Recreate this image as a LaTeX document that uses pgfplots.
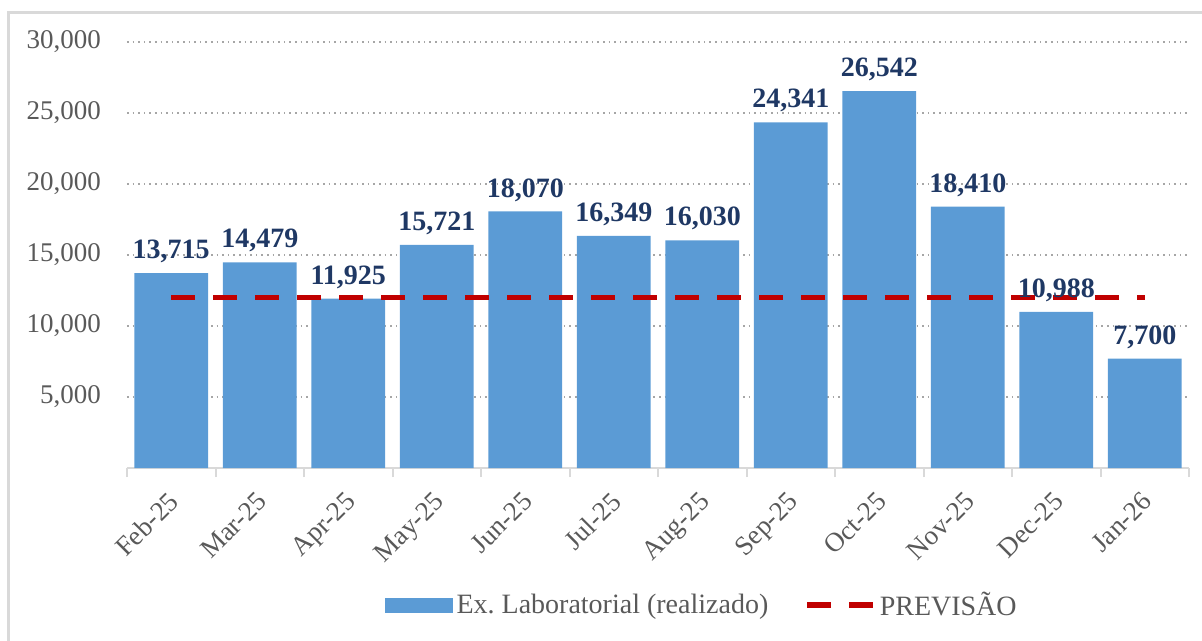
\documentclass[border=0pt]{standalone}
\usepackage{pgfplots}
\pgfplotsset{compat=1.18}
\usepackage{fontspec}
\setmainfont{Liberation Serif}
\definecolor{barblue}{HTML}{5B9BD5}
\definecolor{navy}{HTML}{1F3864}
\definecolor{tickgray}{HTML}{595959}
\definecolor{gridgray}{HTML}{A6A6A6}
\definecolor{linegray}{HTML}{D9D9D9}
\definecolor{prevred}{HTML}{C00000}
\begin{document}
\begin{tikzpicture}
\path[use as bounding box] (-63.5pt,-86.5pt) rectangle (537.5pt,234pt);
\begin{axis}[
  scale only axis,
  width=531pt, height=213pt,
  at={(0,0)}, anchor=south west,
  xmin=-0.5, xmax=11.5,
  ymin=0, ymax=30000,
  axis x line*=bottom,
  axis y line*=left,
  y axis line style={draw=none},
  x axis line style={draw=linegray, line width=1pt, -},
  xtick={-0.5,0.5,...,11.5},
  x tick label as interval,
  xticklabels={Feb-25,Mar-25,Apr-25,May-25,Jun-25,Jul-25,Aug-25,Sep-25,Oct-25,Nov-25,Dec-25,Jan-26},
  xtick style={draw=linegray, line width=1pt},
  tick align=outside,
  major tick length=4.5pt,
  y tick style={draw=none},
  ytick={5000,10000,...,30000},
  scaled y ticks=false,
  ymajorgrids,
  grid style={draw=gridgray, line width=0.8pt, dotted},
  xticklabel style={rotate=45, anchor=north east, font=\fontsize{13.5}{15}\selectfont, text=tickgray, inner sep=1pt, xshift=-5pt, yshift=-2pt},
  yticklabel style={anchor=east, font=\fontsize{13.5}{15}\selectfont, text=tickgray, xshift=-5pt},
  /pgf/number format/.cd, fixed, precision=0, 1000 sep={,}, assume math mode=true,
  /pgfplots/.cd,
  legend style={at={(rel axis cs:0.542,-0.322)}, anchor=center, legend columns=2, draw=none, fill=none,
    font=\fontsize{14}{16}\selectfont, text=tickgray,
    /tikz/every even column/.append style={column sep=16pt}},
  clip=false,
]
\addplot[ybar, bar width=0.835, fill=barblue, draw=none,
  nodes near coords,
  nodes near coords style={font=\bfseries\fontsize{14}{16}\selectfont, text=navy, anchor=south, yshift=1.5pt,
    /pgf/number format/.cd, fixed, precision=0, 1000 sep={,}},
  legend image code/.code={\fill[barblue] (0pt,-3.75pt) rectangle (34pt,3.75pt);}]
 coordinates {(0,13715) (1,14479) (2,11925) (3,15721) (4,18070) (5,16349) (6,16030) (7,24341) (8,26542) (9,18410) (10,10988) (11,7700)};
\addlegendentry{Ex.\ Laboratorial (realizado)}
\addplot[prevred, line width=2.75pt, dash pattern=on 12pt off 9pt, mark=none,
  legend image code/.code={\draw[prevred, line width=2.75pt, dash pattern=on 12pt off 9pt] (0pt,0pt) -- (33pt,0pt);}]
 coordinates {(0,12000) (11,12000)};
\addlegendentry{PREVISÃO}
\end{axis}
\draw[linegray, line width=1.2pt] (-59.25pt,-90pt) -- (-59.25pt,227.75pt) -- (540pt,227.75pt);
\end{tikzpicture}
\end{document}
